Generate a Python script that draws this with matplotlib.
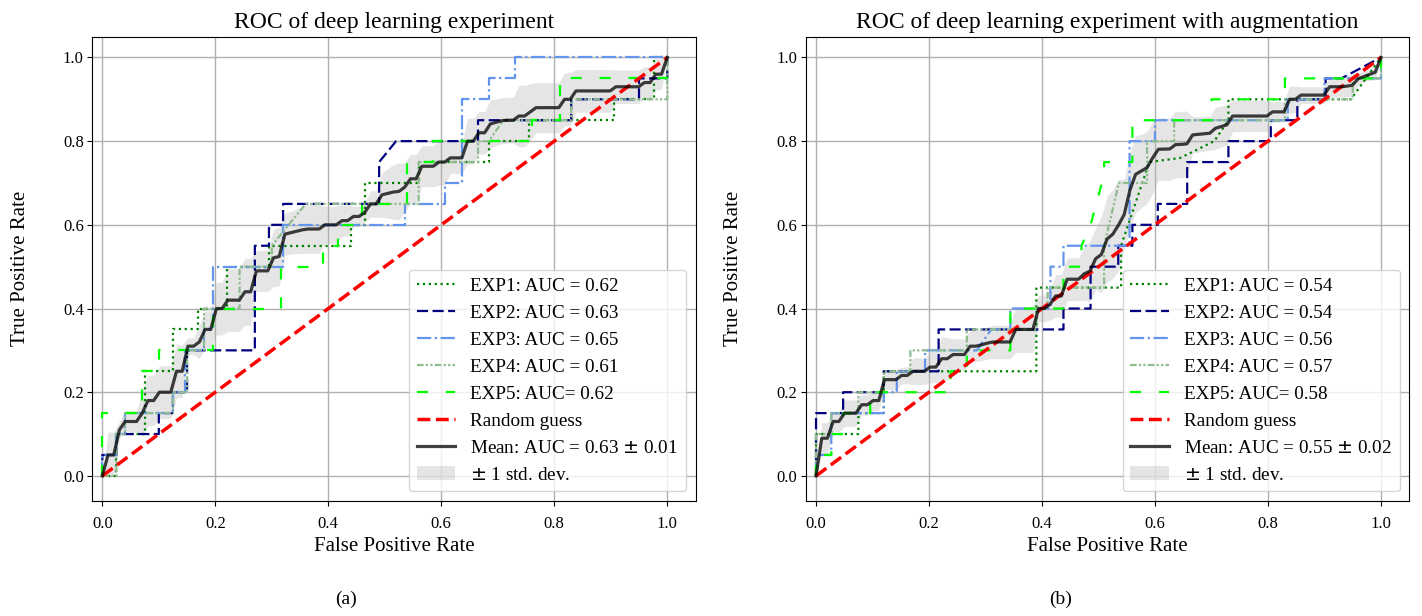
import numpy as np
import matplotlib
matplotlib.use("Agg")
import matplotlib.pyplot as plt

plt.rcParams['font.family'] = ['Liberation Serif', 'DejaVu Serif']

# ROC vertices (fpr, tpr), panel (a)
roc_a_exp1 = [(0, 0), (0.025, 0), (0.025, 0.10), (0.075, 0.10), (0.075, 0.25), (0.125, 0.25), (0.125, 0.35),
              (0.17, 0.35), (0.17, 0.40), (0.22, 0.40), (0.22, 0.50), (0.295, 0.50), (0.295, 0.55), (0.44, 0.55),
              (0.44, 0.60), (0.465, 0.60), (0.465, 0.70), (0.56, 0.70), (0.56, 0.75), (0.685, 0.75), (0.685, 0.80),
              (0.755, 0.80), (0.755, 0.85), (0.905, 0.85), (0.905, 0.90), (0.977, 0.90), (0.977, 1.0), (1, 1)]
roc_a_exp2 = [(0, 0), (0, 0.05), (0.025, 0.05), (0.025, 0.10), (0.10, 0.10), (0.10, 0.15), (0.125, 0.15),
              (0.125, 0.20), (0.15, 0.20), (0.15, 0.30), (0.27, 0.30), (0.27, 0.55), (0.295, 0.55), (0.295, 0.60),
              (0.32, 0.60), (0.32, 0.65), (0.49, 0.65), (0.49, 0.75), (0.52, 0.80), (0.665, 0.80), (0.665, 0.85),
              (0.83, 0.85), (0.83, 0.90), (0.95, 0.90), (0.95, 0.95), (1.0, 0.95), (1, 1)]
roc_a_exp3 = [(0, 0), (0, 0.05), (0.025, 0.05), (0.025, 0.10), (0.04, 0.10), (0.04, 0.15), (0.125, 0.15),
              (0.125, 0.20), (0.147, 0.20), (0.147, 0.30), (0.18, 0.30), (0.18, 0.35), (0.196, 0.35), (0.196, 0.50),
              (0.32, 0.50), (0.32, 0.60), (0.535, 0.60), (0.535, 0.65), (0.607, 0.65), (0.607, 0.70), (0.637, 0.70),
              (0.637, 0.90), (0.684, 0.90), (0.684, 0.95), (0.73, 0.95), (0.73, 1.0), (1, 1)]
roc_a_exp4 = [(0, 0), (0.025, 0), (0.025, 0.10), (0.04, 0.10), (0.04, 0.15), (0.125, 0.15), (0.125, 0.20),
              (0.15, 0.20), (0.15, 0.30), (0.18, 0.30), (0.18, 0.40), (0.243, 0.40), (0.243, 0.50), (0.30, 0.50),
              (0.30, 0.55), (0.36, 0.65), (0.56, 0.65), (0.56, 0.75), (0.665, 0.75), (0.665, 0.80), (0.684, 0.80),
              (0.71, 0.85), (0.83, 0.85), (0.83, 0.90), (1.0, 0.90), (1, 1)]
roc_a_exp5 = [(0, 0), (0, 0.15), (0.07, 0.15), (0.07, 0.25), (0.10, 0.25), (0.10, 0.30), (0.196, 0.30),
              (0.196, 0.40), (0.317, 0.40), (0.317, 0.50), (0.39, 0.50), (0.39, 0.55), (0.418, 0.55), (0.418, 0.60),
              (0.46, 0.60), (0.46, 0.65), (0.54, 0.65), (0.54, 0.75), (0.586, 0.75), (0.586, 0.80), (0.76, 0.80),
              (0.76, 0.85), (0.81, 0.85), (0.81, 0.95), (1.0, 0.95), (1, 1)]

# panel (b)
roc_b_exp1 = [(0, 0), (0, 0.10), (0.075, 0.10), (0.075, 0.15), (0.12, 0.15), (0.12, 0.25), (0.39, 0.25),
              (0.39, 0.45), (0.44, 0.45), (0.54, 0.45), (0.54, 0.55), (0.565, 0.65), (0.59, 0.75), (0.645, 0.76),
              (0.705, 0.80), (0.73, 0.85), (0.73, 0.90), (0.947, 0.90), (1, 1)]
roc_b_exp2 = [(0, 0), (0, 0.15), (0.027, 0.15), (0.048, 0.15), (0.048, 0.20), (0.12, 0.20), (0.12, 0.25),
              (0.217, 0.25), (0.217, 0.35), (0.438, 0.35), (0.438, 0.40), (0.486, 0.40), (0.486, 0.50),
              (0.535, 0.50), (0.535, 0.55), (0.56, 0.55), (0.56, 0.60), (0.605, 0.60), (0.605, 0.65), (0.657, 0.65),
              (0.657, 0.75), (0.73, 0.75), (0.73, 0.80), (0.805, 0.80), (0.805, 0.85), (0.852, 0.85), (0.852, 0.90),
              (0.902, 0.90), (0.902, 0.95), (0.93, 0.95), (1, 1)]
roc_b_exp3 = [(0, 0), (0, 0.05), (0.027, 0.05), (0.027, 0.15), (0.12, 0.15), (0.12, 0.20), (0.143, 0.20),
              (0.143, 0.25), (0.193, 0.25), (0.193, 0.30), (0.285, 0.30), (0.31, 0.35), (0.344, 0.35), (0.344, 0.40),
              (0.415, 0.40), (0.415, 0.50), (0.438, 0.50), (0.438, 0.55), (0.555, 0.55), (0.555, 0.80), (0.60, 0.80),
              (0.60, 0.85), (0.835, 0.85), (0.835, 0.90), (0.90, 0.90), (0.90, 0.95), (1.0, 0.95), (1, 1)]
roc_b_exp4 = [(0, 0), (0, 0.10), (0.027, 0.10), (0.027, 0.15), (0.075, 0.15), (0.075, 0.20), (0.12, 0.20),
              (0.12, 0.25), (0.167, 0.25), (0.167, 0.30), (0.267, 0.30), (0.267, 0.35), (0.39, 0.35), (0.39, 0.40),
              (0.41, 0.40), (0.41, 0.45), (0.51, 0.45), (0.51, 0.55), (0.536, 0.70), (0.586, 0.70), (0.586, 0.80),
              (0.634, 0.80), (0.634, 0.85), (0.83, 0.85), (0.83, 0.90), (0.95, 0.90), (0.95, 0.95), (1.0, 0.95),
              (1, 1)]
roc_b_exp5 = [(0, 0), (0, 0.05), (0.027, 0.05), (0.027, 0.10), (0.048, 0.10), (0.048, 0.15), (0.096, 0.15),
              (0.096, 0.20), (0.238, 0.20), (0.238, 0.25), (0.267, 0.25), (0.267, 0.30), (0.344, 0.30),
              (0.344, 0.40), (0.438, 0.40), (0.438, 0.50), (0.47, 0.50), (0.47, 0.55), (0.486, 0.60), (0.51, 0.72),
              (0.51, 0.75), (0.56, 0.75), (0.56, 0.85), (0.70, 0.85), (0.70, 0.90), (0.83, 0.90), (0.83, 0.95),
              (1.0, 0.95), (1, 1)]

labels_a = ["EXP1: AUC = 0.62", "EXP2: AUC = 0.63", "EXP3: AUC = 0.65", "EXP4: AUC = 0.61", "EXP5: AUC= 0.62"]
labels_b = ["EXP1: AUC = 0.54", "EXP2: AUC = 0.54", "EXP3: AUC = 0.56", "EXP4: AUC = 0.57", "EXP5: AUC= 0.58"]
mean_auc = [0.63, 0.55]
std_auc = [0.01, 0.02]
titles = ["ROC of deep learning experiment", "ROC of deep learning experiment with augmentation"]
captions = ["(a)", "(b)"]

styles = [
    dict(color='green', linestyle=':'),
    dict(color='navy', linestyle=(0, (5, 2))),
    dict(color='cornflowerblue', linestyle='-.'),
    dict(color='darkseagreen', linestyle=(0, (3, 1, 1, 1, 1, 1))),
    dict(color='lime', linestyle=(0, (5, 8))),
]


def draw_panel(ax, rocs, labels, m_auc, s_auc, title):
    mean_fpr = np.linspace(0, 1, 100)
    tprs = []
    for roc, lab, st in zip(rocs, labels, styles):
        fpr = np.array([p[0] for p in roc])
        tpr = np.array([p[1] for p in roc])
        ax.plot(fpr, tpr, lw=1.6, label=lab, **st)
        t = np.interp(mean_fpr, fpr, tpr)
        t[0] = 0.0
        tprs.append(t)

    ax.plot([0, 1], [0, 1], linestyle='--', lw=2.5, color='r', label='Random guess')

    mean_tpr = np.mean(tprs, axis=0)
    mean_tpr[-1] = 1.0
    ax.plot(mean_fpr, mean_tpr, color='k', lw=2.3, alpha=0.75,
            label=f'Mean: AUC = {m_auc:.2f} $\\pm$ {s_auc:.2f}')
    std_tpr = np.std(tprs, axis=0)
    upper = np.minimum(mean_tpr + std_tpr, 1)
    lower = np.maximum(mean_tpr - std_tpr, 0)
    ax.fill_between(mean_fpr, lower, upper, color='grey', alpha=0.2, lw=0, label=r'$\pm$ 1 std. dev.')

    ax.set_xlim(-0.018, 1.05)
    ax.set_ylim(-0.06, 1.05)
    ax.set_xlabel('False Positive Rate', fontsize=15, labelpad=4)
    ax.set_ylabel('True Positive Rate', fontsize=15, labelpad=24)
    ax.set_title(title, fontsize=17)
    ax.grid(True, color='#b0b0b0', lw=1)
    ax.tick_params(axis='x', labelsize=12, pad=7)
    ax.tick_params(axis='y', labelsize=12, pad=2.5)
    ax.legend(loc='lower right', fontsize=13.8, labelspacing=0.5)


fig = plt.figure(figsize=(14.22, 6.16), dpi=100)
ax1 = fig.add_axes([0.0648, 0.1867, 0.4243, 0.754])
ax2 = fig.add_axes([0.5667, 0.1867, 0.4243, 0.754])

draw_panel(ax1, [roc_a_exp1, roc_a_exp2, roc_a_exp3, roc_a_exp4, roc_a_exp5], labels_a,
           mean_auc[0], std_auc[0], titles[0])
draw_panel(ax2, [roc_b_exp1, roc_b_exp2, roc_b_exp3, roc_b_exp4, roc_b_exp5], labels_b,
           mean_auc[1], std_auc[1], titles[1])

fig.text(0.243, 0.02, captions[0], ha='center', fontsize=14)
fig.text(0.746, 0.02, captions[1], ha='center', fontsize=14)

fig.savefig('out.png', dpi=100)
